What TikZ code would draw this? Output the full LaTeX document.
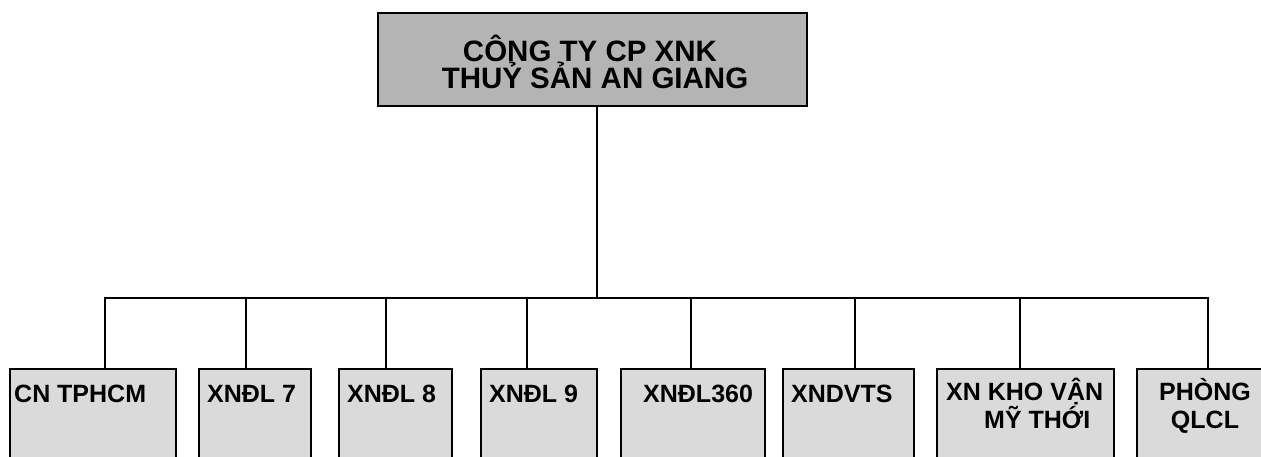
\documentclass[tikz,border=0pt]{standalone}
\usepackage{fontspec}
\setmainfont{Liberation Sans}
\definecolor{topgray}{RGB}{180,180,180}
\definecolor{subgray}{RGB}{218,218,218}
\begin{document}
\begin{tikzpicture}[x=1pt,y=-1pt,
  box/.style={draw=black, line width=2pt, rectangle, inner sep=0pt},
  topbox/.style={box, fill=topgray, minimum width=429pt, minimum height=93pt},
  cbox/.style={box, fill=subgray, minimum height=110pt},
  lbl/.style={font=\fontsize{25}{28}\selectfont\bfseries, inner sep=0pt},
  toplbl/.style={font=\fontsize{29.5}{30}\selectfont\bfseries, inner sep=0pt},
  conn/.style={line width=2pt}]
\path[use as bounding box] (0,0) rectangle (1261,457);
\clip (0,0) rectangle (1261,457);
% top box
\node[topbox] (top) at (592.5,59.5) {};
\node[toplbl, anchor=base] (t1) at (590,62) {CÔNG TY CP XNK};
\node[toplbl, anchor=base] (t2) at (595,89) {THUỶ SẢN AN GIANG};
% child boxes
\node[cbox, minimum width=166pt] (c1) at (93,424) {};
\node[cbox, minimum width=112pt] (c2) at (255,424) {};
\node[cbox, minimum width=113pt] (c3) at (395.5,424) {};
\node[cbox, minimum width=116pt] (c4) at (539,424) {};
\node[cbox, minimum width=144pt] (c5) at (693,424) {};
\node[cbox, minimum width=131pt] (c6) at (848.5,424) {};
\node[cbox, minimum width=177pt] (c7) at (1025.5,424) {};
\node[cbox, minimum width=138pt] (c8) at (1206,424) {};
% labels
\node[lbl, anchor=base west] (l1) at ([xshift=5pt,yshift=-34pt]c1.north west) {CN TPHCM};
\node[lbl, anchor=base west] (l2) at ([xshift=9pt,yshift=-34pt]c2.north west) {XNĐL 7};
\node[lbl, anchor=base west] (l3) at ([xshift=9pt,yshift=-34pt]c3.north west) {XNĐL 8};
\node[lbl, anchor=base west] (l4) at ([xshift=9pt,yshift=-34pt]c4.north west) {XNĐL 9};
\node[lbl, anchor=base west] (l5) at ([xshift=23pt,yshift=-34pt]c5.north west) {XNĐL360};
\node[lbl, anchor=base west] (l6) at ([xshift=9pt,yshift=-34pt]c6.north west) {XNDVTS};
\node[lbl, anchor=base west] (l7a) at ([xshift=10pt,yshift=-32pt]c7.north west) {XN KHO VẬN};
\node[lbl, anchor=base west] (l7b) at ([xshift=48pt,yshift=-60pt]c7.north west) {MỸ THỚI};
\node[lbl, anchor=base] (l8a) at ([xshift=-1pt,yshift=-32pt]c8.north) {PHÒNG};
\node[lbl, anchor=base] (l8b) at ([xshift=-1pt,yshift=-60pt]c8.north) {QLCL};
% connectors
\coordinate (bus) at (597,298);
\draw[conn] ([xshift=4.5pt]top.south) -- (bus);
\draw[conn] ([xshift=12pt]c1.north) |- (bus);
\draw[conn] ([xshift=-9pt]c2.north) |- (bus);
\draw[conn] ([xshift=-9.5pt]c3.north) |- (bus);
\draw[conn] ([xshift=-12pt]c4.north) |- (bus);
\draw[conn] ([xshift=-2pt]c5.north) |- (bus);
\draw[conn] ([xshift=6.5pt]c6.north) |- (bus);
\draw[conn] ([xshift=-5.5pt]c7.north) |- (bus);
\draw[conn] ([xshift=2pt]c8.north) |- (bus);
\end{tikzpicture}
\end{document}
